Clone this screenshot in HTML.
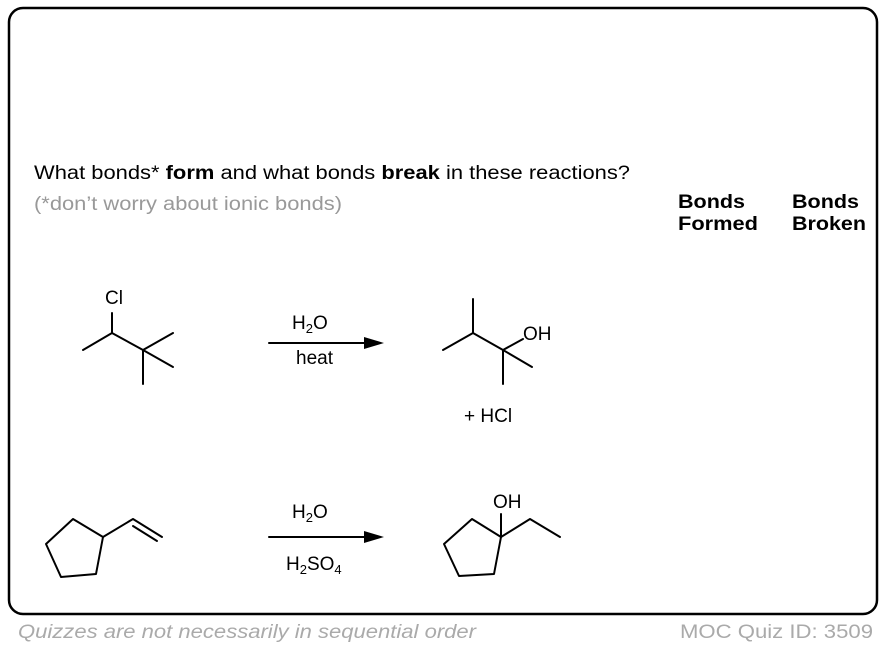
<!DOCTYPE html>
<html><head><meta charset="utf-8"><style>
html,body{margin:0;padding:0;background:#fff;width:884px;height:648px;overflow:hidden}
svg{display:block}
text{font-family:"Liberation Sans",Arial,sans-serif}
</style></head><body>
<svg width="884" height="648" viewBox="0 0 884 648" xmlns="http://www.w3.org/2000/svg">
<rect x="9" y="8" width="868" height="606" rx="14" ry="14" fill="none" stroke="#000" stroke-width="2.5"/>
<text x="34" y="179" font-size="19" textLength="596" lengthAdjust="spacingAndGlyphs">What bonds* <tspan font-weight="bold">form</tspan> and what bonds <tspan font-weight="bold">break</tspan> in these reactions?</text>
<text x="34" y="210" font-size="19" fill="#999" textLength="308" lengthAdjust="spacingAndGlyphs">(*don’t worry about ionic bonds)</text>
<g font-size="19" font-weight="bold">
<text x="678" y="208" textLength="67" lengthAdjust="spacingAndGlyphs">Bonds</text>
<text x="678" y="230" textLength="80" lengthAdjust="spacingAndGlyphs">Formed</text>
<text x="792" y="208" textLength="67" lengthAdjust="spacingAndGlyphs">Bonds</text>
<text x="792" y="230" textLength="74" lengthAdjust="spacingAndGlyphs">Broken</text>
</g>
<g stroke="#000" stroke-width="2" fill="none" stroke-linecap="round" stroke-linejoin="round">
<polyline points="83,350 112,333 143,350 173,333"/>
<line x1="112" y1="333" x2="112" y2="313"/>
<line x1="143" y1="350" x2="173" y2="367"/>
<line x1="143" y1="350" x2="143" y2="384"/>
<polyline points="443,350 473,333 503,350 523,339"/>
<line x1="473" y1="333" x2="473" y2="299"/>
<line x1="503" y1="350" x2="532" y2="367"/>
<line x1="503" y1="350" x2="503" y2="384"/>
<polygon points="46,544 73,519 103,537 96,574 61,577"/>
<polyline points="103,537 133,519 162,537"/>
<line x1="133" y1="526" x2="157" y2="541"/>
<polygon points="501,537 472,519 444,544 459,576 494,574"/>
<line x1="501" y1="537" x2="501" y2="514"/>
<polyline points="501,537 530,519 560,537"/>
<line x1="269" y1="343" x2="370" y2="343"/>
<line x1="269" y1="537" x2="370" y2="537"/>
</g>
<polygon points="364,337 384,343 364,349" fill="#000"/>
<polygon points="364,531 384,537 364,543" fill="#000"/>
<g font-size="19">
<text x="105" y="304">Cl</text>
<text x="523" y="340">OH</text>
<text x="493" y="508">OH</text>
<text x="292" y="329">H<tspan font-size="13" dy="4">2</tspan><tspan dy="-4">O</tspan></text>
<text x="296" y="364">heat</text>
<text x="464" y="422">+ HCl</text>
<text x="292" y="518">H<tspan font-size="13" dy="4">2</tspan><tspan dy="-4">O</tspan></text>
<text x="286" y="570">H<tspan font-size="13" dy="4">2</tspan><tspan dy="-4">SO</tspan><tspan font-size="13" dy="4">4</tspan></text>
</g>
<text x="18" y="638" font-size="19" font-style="italic" fill="#aaa" textLength="458" lengthAdjust="spacingAndGlyphs">Quizzes are not necessarily in sequential order</text>
<text x="680" y="638" font-size="19" fill="#aaa" textLength="193" lengthAdjust="spacingAndGlyphs">MOC Quiz ID: 3509</text>
</svg>
</body></html>
